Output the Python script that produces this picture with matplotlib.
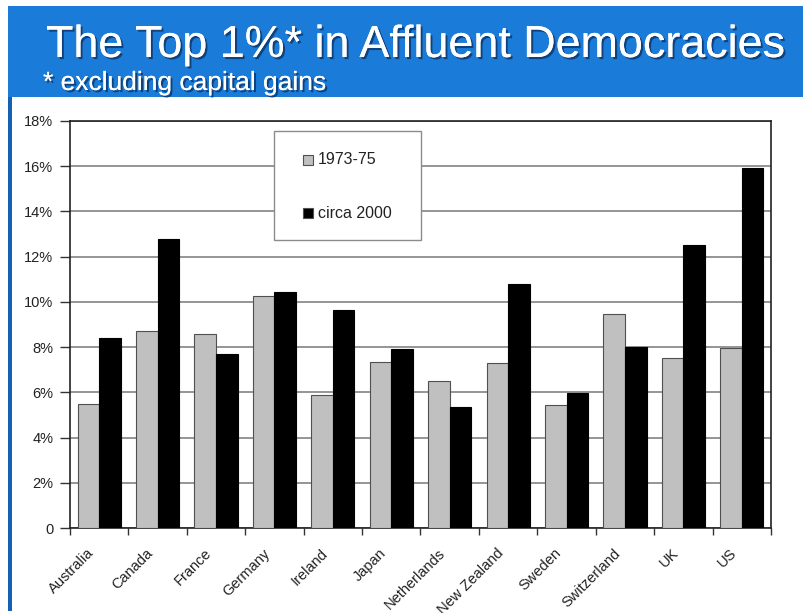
import numpy as np
import matplotlib
matplotlib.use("Agg")
import matplotlib.pyplot as plt
from matplotlib.patches import Rectangle
from matplotlib.transforms import ScaledTranslation
import matplotlib.patheffects as pe

plt.rcParams['font.family'] = ['Liberation Sans', 'DejaVu Sans']

countries = ["Australia", "Canada", "France", "Germany", "Ireland", "Japan",
             "Netherlands", "New Zealand", "Sweden", "Switzerland", "UK", "US"]
share_1973_75 = [5.5, 8.7, 8.6, 10.25, 5.9, 7.35, 6.5, 7.3, 5.45, 9.45, 7.5, 7.95]
share_2000 = [8.4, 12.8, 7.7, 10.45, 9.65, 7.9, 5.35, 10.8, 5.95, 8.0, 12.5, 15.9]
series_labels = ["1973-75", "circa 2000"]
series_colors = ["#c0c0c0", "black"]
ytick_vals = [0, 2, 4, 6, 8, 10, 12, 14, 16, 18]
ytick_labels = ["0", "2%", "4%", "6%", "8%", "10%", "12%", "14%", "16%", "18%"]
title = "The Top 1%* in Affluent Democracies"
subtitle = "* excluding capital gains"

W, H = 804, 613
fig = plt.figure(figsize=(W / 100, H / 100), dpi=100)
fig.patch.set_facecolor("white")

# header band
fig.patches.append(Rectangle((8 / W, 1 - 97 / H), 1 - 8 / W, 91 / H,
                             transform=fig.transFigure, facecolor="#1a7bd8",
                             edgecolor="none", zorder=0))
# left blue strip
fig.patches.append(Rectangle((8 / W, 1 - 611 / H), 4 / W, (611 - 97) / H,
                             transform=fig.transFigure, facecolor="#1560b5",
                             edgecolor="none", zorder=0))

shadow = [pe.withSimplePatchShadow(offset=(1.5, -1.5), shadow_rgbFace="#0b2a55", alpha=0.7), pe.Normal()]
fig.text(46 / W, 1 - 57 / H, title, color="white", fontsize=32.3, va="baseline",
         ha="left", path_effects=shadow)
fig.text(43 / W, 1 - 90 / H, subtitle, color="white", fontsize=19, va="baseline",
         ha="left", path_effects=shadow)

ax = fig.add_axes([70 / W, 1 - 528 / H, (771 - 70) / W, (528 - 121) / H])
x = np.arange(len(countries))
bw = 0.37
ax.bar(x - bw / 2, share_1973_75, width=bw, color=series_colors[0], edgecolor="#505050",
       linewidth=0.8, label=series_labels[0], zorder=3)
ax.bar(x + bw / 2, share_2000, width=bw, color=series_colors[1], edgecolor="black",
       linewidth=0.8, label=series_labels[1], zorder=3)

ax.set_xlim(-0.5, len(countries) - 0.5)
ax.set_ylim(0, 18)
ax.set_yticks(ytick_vals)
ax.set_yticklabels(ytick_labels, fontsize=10.5, color="#222222")
ax.yaxis.grid(True, color="#8c8c8c", linewidth=1.3, zorder=0)
ax.set_axisbelow(True)
ax.tick_params(axis="y", length=7, width=1, color="#333333", pad=5)

ax.set_xticks(x)
ax.set_xticklabels(countries, rotation=45, ha="right", va="top",
                   rotation_mode="anchor", fontsize=10.5, color="#222222")
ax.tick_params(axis="x", length=0, pad=13)
shift = ScaledTranslation(-12 / 100, 0, fig.dpi_scale_trans)
for lbl in ax.get_xticklabels():
    lbl.set_transform(lbl.get_transform() + shift)
ax.set_xticks(np.arange(-0.5, len(countries), 1), minor=True)
ax.tick_params(axis="x", which="minor", length=5, width=1, color="#333333")

for s in ax.spines.values():
    s.set_color("#222222")
    s.set_linewidth(1.2)

# legend box (pixel layout converted to axes fraction)
ax_l, ax_b, ax_w, ax_h = 70, 528, 771 - 70, 528 - 121


def px(xp, yp):
    return ((xp - ax_l) / ax_w, (ax_b - yp) / ax_h)


fx, fy = px(274, 240)
ax.add_patch(Rectangle((fx, fy), 147 / ax_w, 109 / ax_h, transform=ax.transAxes,
                       facecolor="white", edgecolor="#8c8c8c", linewidth=1.0, zorder=6))
for i, (lab, col) in enumerate(zip(series_labels, series_colors)):
    cy = 160 + i * 53
    sx0, sy0 = px(303, cy + 5)
    ax.add_patch(Rectangle((sx0, sy0), 10 / ax_w, 10 / ax_h, transform=ax.transAxes,
                           facecolor=col, edgecolor="#505050", linewidth=0.8, zorder=7))
    tx, ty = px(318, cy)
    ax.text(tx, ty, lab, transform=ax.transAxes, fontsize=11.5, va="center",
            ha="left", color="#222222", zorder=7)

fig.savefig("out.png", dpi=100, facecolor=fig.get_facecolor())
